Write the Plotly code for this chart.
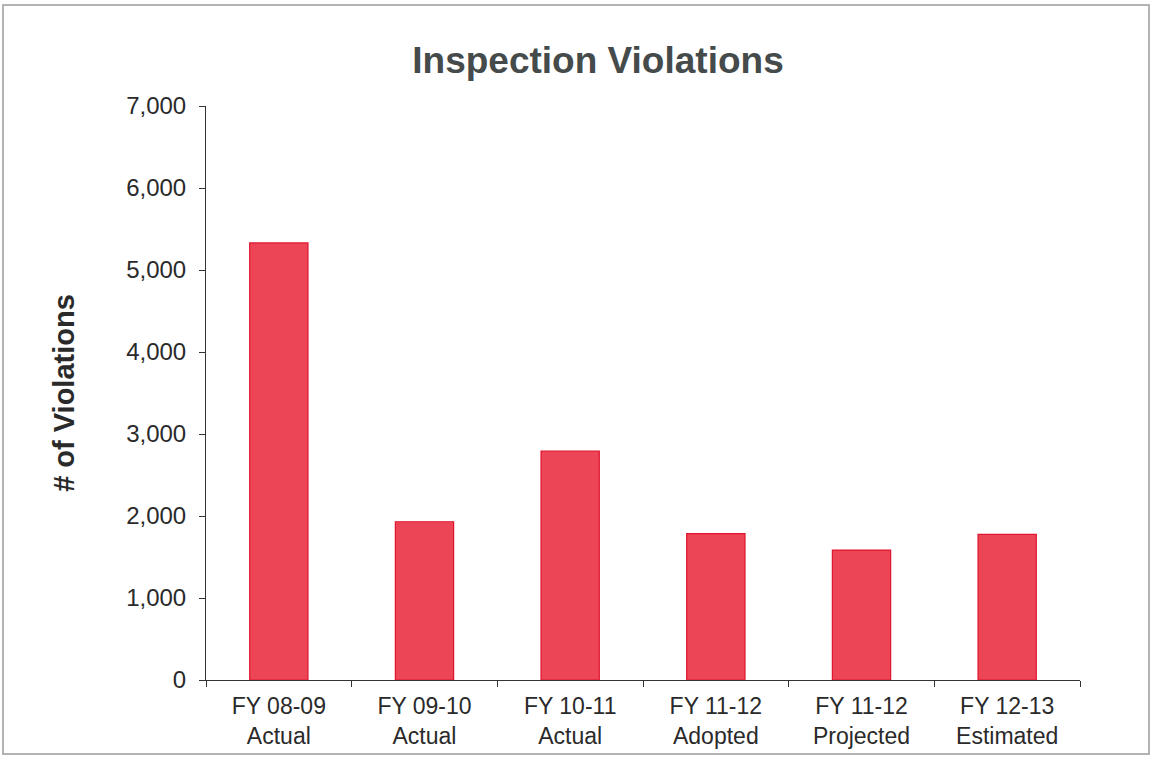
import plotly.graph_objects as go

categories = ["FY 08-09<br>Actual", "FY 09-10<br>Actual", "FY 10-11<br>Actual",
              "FY 11-12<br>Adopted", "FY 11-12<br>Projected", "FY 12-13<br>Estimated"]
violations = [5330, 1930, 2790, 1785, 1585, 1775]
y_ticks = [0, 1000, 2000, 3000, 4000, 5000, 6000, 7000]
y_tick_labels = ["0", "1,000", "2,000", "3,000", "4,000", "5,000", "6,000", "7,000"]

W, H = 1151, 757
L, R, T, B = 206, 71, 106, 77

fig = go.Figure(go.Bar(
    x=categories, y=violations,
    marker=dict(color="#EC4656", line=dict(color="#E0142E", width=1.2)),
    width=0.4,
))

fig.update_layout(
    width=W, height=H,
    margin=dict(l=L, r=R, t=T, b=B),
    paper_bgcolor="white", plot_bgcolor="white",
    showlegend=False,
    font=dict(family="Liberation Sans, Arial, sans-serif", color="#2a2a2a"),
    title=dict(text="<b>Inspection Violations</b>", x=598 / W, xanchor="center",
               y=1 - 60 / H, yanchor="middle",
               font=dict(size=37, color="#454a4b")),
)
fig.update_yaxes(
    range=[0, 7000], tickvals=y_ticks, ticktext=y_tick_labels,
    showline=True, linecolor="#333", linewidth=1,
    ticks="outside", ticklen=6, tickcolor="#333", ticklabelstandoff=8,
    showgrid=False, zeroline=False, automargin=False,
    tickfont=dict(size=24, color="#2a2a2a"),
    title=dict(text="<b># of Violations</b>", font=dict(size=29, color="#2a2a2a"), standoff=42),
)
fig.update_xaxes(
    showline=True, linecolor="#333", linewidth=1,
    ticks="outside", ticklen=6, tickcolor="#333", tickson="boundaries",
    ticklabelstandoff=5, automargin=False,
    showgrid=False,
    tickfont=dict(size=23, color="#2a2a2a"),
)

pw = W - L - R
ph = H - T - B
fig.add_shape(type="rect", xref="paper", yref="paper",
              x0=(3 - L) / pw, x1=(1149 - L) / pw,
              y0=(H - B - 754) / ph, y1=(H - B - 5) / ph,
              line=dict(color="#9a9a9a", width=1.5))

fig.write_html("out.html", config={"displayModeBar": False},
               post_script="document.body.style.margin='0';document.body.style.overflow='hidden';")
